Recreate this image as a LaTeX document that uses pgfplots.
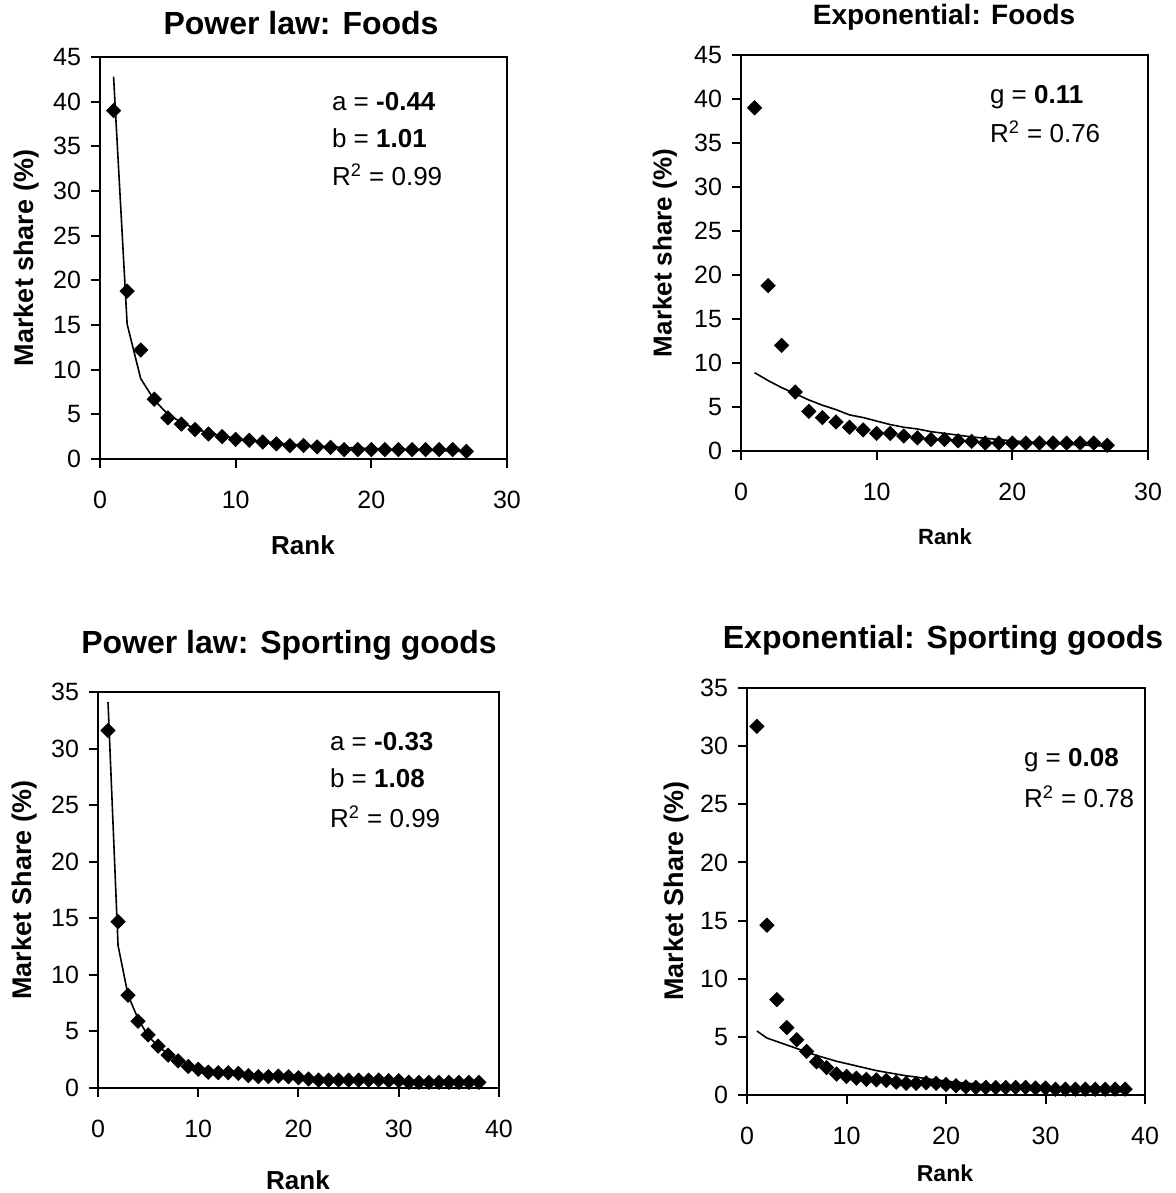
\documentclass[border=0pt]{standalone}
\usepackage{fontspec}
\setmainfont{Liberation Sans}
\usepackage{pgfplots}
\pgfplotsset{compat=1.18}
\pgfplotsset{
  panel/.style={
    scale only axis,
    axis line style={line width=1.2pt, black},
    tick align=outside,
    major tick length=4.5pt,
    tick style={line width=1pt, black},
    tick pos=left,
    ticklabel style={font=\fontsize{12.5}{14}\selectfont},
    /pgf/number format/assume math mode=true,
    xticklabel style={yshift=-8pt},
    yticklabel style={xshift=-1.5pt},
    clip=false,
  },
  dia/.style={only marks, mark=square*, mark size=2.5pt, mark options={rotate=45, fill=black, draw=black}},
  fit/.style={black, line width=0.8pt, mark=none},
}
\newcommand{\ann}{\fontsize{13}{15}\selectfont}
\begin{document}
\begin{tikzpicture}
\path[use as bounding box] (0,0) rectangle (587.5pt,596.5pt);

% ---------- Panel 1: Power law, Foods ----------
\begin{axis}[panel, at={(50pt,367pt)}, anchor=south west,
  width=203.5pt, height=201pt,
  xmin=0, xmax=30, ymin=0, ymax=45,
  xtick={0,10,20,30}, ytick={0,5,...,45}]
\addplot[dia] table {
x y
1 39.0
2 18.8
3 12.2
4 6.7
5 4.6
6 3.9
7 3.3
8 2.8
9 2.5
10 2.2
11 2.1
12 1.9
13 1.7
14 1.5
15 1.5
16 1.35
17 1.3
18 1.05
19 1.05
20 1.05
21 1.05
22 1.05
23 1.05
24 1.05
25 1.05
26 1.05
27 0.85
};
\addplot[fit] table {
x y
1 42.8
2 15.1
3 9.0
4 6.6
5 5.0
6 4.1
7 3.4
8 2.9
9 2.6
10 2.3
11 2.1
12 1.95
13 1.8
14 1.65
15 1.55
16 1.45
17 1.37
18 1.3
19 1.22
20 1.17
21 1.12
22 1.07
23 1.02
24 0.98
25 0.94
26 0.9
27 0.87
};
\end{axis}

% ---------- Panel 2: Exponential, Foods ----------
\begin{axis}[panel, at={(370.5pt,371pt)}, anchor=south west,
  width=203.5pt, height=198pt,
  xmin=0, xmax=30, ymin=0, ymax=45,
  xtick={0,10,20,30}, ytick={0,5,...,45}]
\addplot[dia] table {
x y
1 39.0
2 18.8
3 12.0
4 6.7
5 4.5
6 3.8
7 3.3
8 2.7
9 2.4
10 2.0
11 2.0
12 1.7
13 1.5
14 1.3
15 1.3
16 1.15
17 1.1
18 0.9
19 0.9
20 0.9
21 0.9
22 0.9
23 0.9
24 0.9
25 0.9
26 0.9
27 0.65
};
\addplot[fit] table {
x y
1 8.9
2 8.0
3 7.2
4 6.5
5 5.8
6 5.2
7 4.7
8 4.1
9 3.8
10 3.4
11 3.0
12 2.7
13 2.5
14 2.2
15 2.0
16 1.8
17 1.6
18 1.45
19 1.3
20 1.15
21 1.05
22 0.95
23 0.85
24 0.75
25 0.7
26 0.62
27 0.55
};
\end{axis}

% ---------- Panel 3: Power law, Sporting goods ----------
\begin{axis}[panel, at={(49pt,52.5pt)}, anchor=south west,
  width=200.5pt, height=198pt,
  xmin=0, xmax=40, ymin=0, ymax=35,
  xtick={0,10,20,30,40}, ytick={0,5,...,35}]
\addplot[dia] table {
x y
1 31.6
2 14.7
3 8.2
4 5.9
5 4.7
6 3.7
7 2.9
8 2.4
9 1.9
10 1.65
11 1.4
12 1.35
13 1.35
14 1.3
15 1.1
16 1.0
17 1.0
18 1.05
19 1.0
20 0.9
21 0.8
22 0.7
23 0.7
24 0.7
25 0.7
26 0.7
27 0.7
28 0.7
29 0.65
30 0.65
31 0.5
32 0.5
33 0.5
34 0.5
35 0.5
36 0.5
37 0.5
38 0.5
};
\addplot[fit] table {
x y
1 34.1
2 12.6
3 8.2
4 6.1
5 4.6
6 3.7
7 3.0
8 2.5
9 2.1
10 1.85
11 1.65
12 1.5
13 1.4
14 1.3
15 1.2
16 1.12
17 1.05
18 1.0
19 0.95
20 0.9
21 0.85
22 0.81
23 0.78
24 0.75
25 0.72
26 0.69
27 0.66
28 0.64
29 0.62
30 0.6
31 0.58
32 0.56
33 0.54
34 0.52
35 0.51
36 0.5
37 0.48
38 0.47
};
\end{axis}

% ---------- Panel 4: Exponential, Sporting goods ----------
\begin{axis}[panel, at={(373.5pt,49pt)}, anchor=south west,
  width=199pt, height=203.5pt,
  xmin=0, xmax=40, ymin=0, ymax=35,
  xtick={0,10,20,30,40}, ytick={0,5,...,35}]
\addplot[dia] table {
x y
1 31.7
2 14.6
3 8.2
4 5.8
5 4.75
6 3.75
7 2.85
8 2.35
9 1.8
10 1.6
11 1.45
12 1.35
13 1.3
14 1.25
15 1.1
16 1.0
17 1.0
18 1.05
19 1.0
20 0.9
21 0.8
22 0.7
23 0.65
24 0.65
25 0.65
26 0.65
27 0.65
28 0.65
29 0.6
30 0.6
31 0.5
32 0.5
33 0.5
34 0.5
35 0.5
36 0.5
37 0.5
38 0.5
};
\addplot[fit] table {
x y
1 5.5
2 4.9
3 4.6
4 4.3
5 4.0
6 3.7
7 3.4
8 3.15
9 2.9
10 2.7
11 2.5
12 2.3
13 2.1
14 1.95
15 1.8
16 1.65
17 1.55
18 1.4
19 1.3
20 1.2
21 1.1
22 1.02
23 0.94
24 0.87
25 0.8
26 0.74
27 0.68
28 0.63
29 0.58
30 0.54
31 0.5
32 0.46
33 0.42
34 0.39
35 0.36
36 0.33
37 0.31
38 0.28
};
\end{axis}

% ---------- Titles ----------
\node[font=\fontsize{16}{18}\selectfont\bfseries] at (150.5pt,585pt) {Power law: Foods};
\node[font=\fontsize{14}{16}\selectfont\bfseries] at (472pt,588pt) {Exponential: Foods};
\node[font=\fontsize{16}{18}\selectfont\bfseries] at (144.5pt,274pt) {Power law: Sporting goods};
\node[font=\fontsize{16}{18}\selectfont\bfseries] at (471.5pt,276.5pt) {Exponential: Sporting goods};

% ---------- Axis labels ----------
\node[rotate=90, font=\fontsize{13.5}{15}\selectfont\bfseries] at (13.5pt,467.5pt) {Market share (\%)};
\node[rotate=90, font=\fontsize{13}{15}\selectfont\bfseries] at (332.5pt,470pt) {Market share (\%)};
\node[rotate=90, font=\fontsize{13.5}{15}\selectfont\bfseries] at (12.5pt,151.5pt) {Market Share (\%)};
\node[rotate=90, font=\fontsize{13.5}{15}\selectfont\bfseries] at (338.5pt,151pt) {Market Share (\%)};
\node[font=\fontsize{13}{15}\selectfont\bfseries] at (151.5pt,324pt) {Rank};
\node[font=\fontsize{11}{13}\selectfont\bfseries] at (472.5pt,328pt) {Rank};
\node[font=\fontsize{13}{15}\selectfont\bfseries] at (149pt,6.5pt) {Rank};
\node[font=\fontsize{11.5}{13}\selectfont\bfseries] at (472.5pt,10pt) {Rank};

% ---------- Annotations ----------
\node[anchor=west, font=\ann] at (162.5pt,545.5pt) {a = \textbf{-0.44}};
\node[anchor=west, font=\ann] at (162.5pt,527.5pt) {b = \textbf{1.01}};
\node[anchor=west, font=\ann] at (162.5pt,509pt) {R\textsuperscript{2} = 0.99};
\node[anchor=west, font=\ann] at (491.5pt,548pt) {g = \textbf{0.11}};
\node[anchor=west, font=\ann] at (491.5pt,530.5pt) {R\textsuperscript{2} = 0.76};
\node[anchor=west, font=\ann] at (161.5pt,225.5pt) {a = \textbf{-0.33}};
\node[anchor=west, font=\ann] at (161.5pt,207.5pt) {b = \textbf{1.08}};
\node[anchor=west, font=\ann] at (161.5pt,188pt) {R\textsuperscript{2} = 0.99};
\node[anchor=west, font=\ann] at (508.5pt,216.5pt) {g = \textbf{0.08}};
\node[anchor=west, font=\ann] at (508.5pt,198pt) {R\textsuperscript{2} = 0.78};
\end{tikzpicture}
\end{document}
